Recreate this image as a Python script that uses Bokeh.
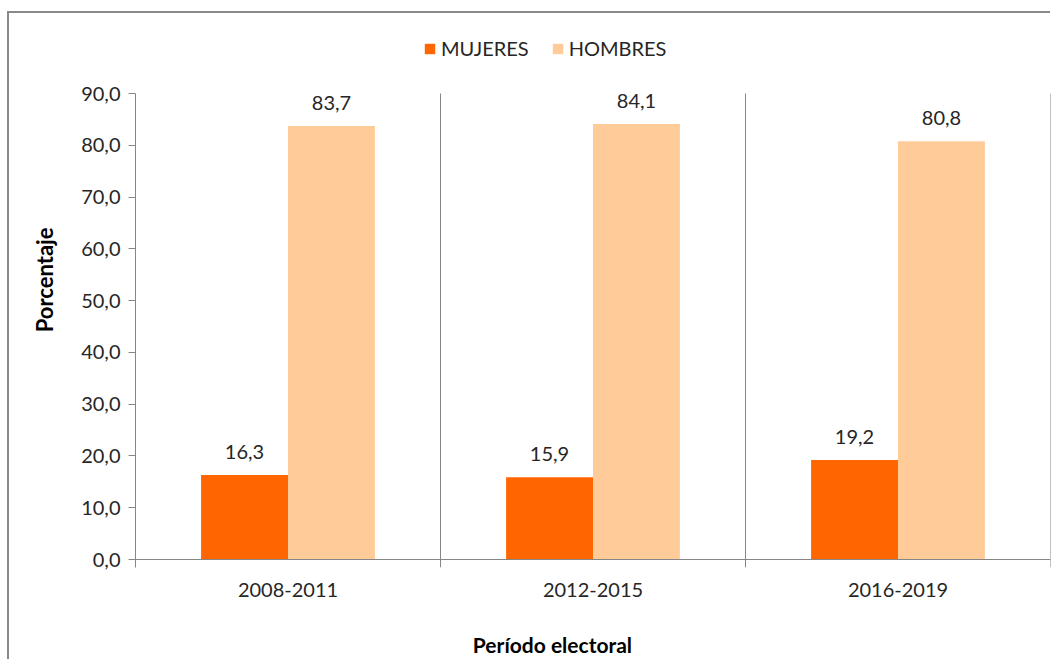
from bokeh.plotting import figure
from bokeh.models import (Range1d, FixedTicker, Span, Legend, LegendItem,
                          LinearAxis, ColumnDataSource)
from bokeh.core.properties import value
from bokeh.embed import file_html
from bokeh.resources import INLINE

periodos = ["2008-2011", "2012-2015", "2016-2019"]
mujeres = [16.3, 15.9, 19.2]
hombres = [83.7, 84.1, 80.8]
y_ticks = [0, 10, 20, 30, 40, 50, 60, 70, 80, 90]
series = ["MUJERES", "HOMBRES"]
y_title = "Porcentaje"
x_title = "Período electoral"

C_MUJ = "#FF6600"
C_HOM = "#FFCC99"
AX = "#868686"
TXT = "#262626"
FONT = "Lato"

Y_LO, Y_AX_TOP, Y_HI = -1.545, 90, 103.52

W, H = 1043, 648
p = figure(width=W, height=H, output_backend="svg", toolbar_location=None,
           x_range=Range1d(0, 3), y_range=Range1d(Y_LO, Y_HI),
           min_border_left=126, min_border_right=2, min_border_top=10,
           min_border_bottom=94)
p.styles = {"margin-left": "9px", "margin-top": "13px",
            "box-shadow": "-2px -2px 0px 0px #898989"}
p.outline_line_color = None
p.background_fill_color = "white"
p.border_fill_color = "white"

bw = 0.285
idx = list(range(len(periodos)))
xm = [i + 0.5 - bw / 2 for i in idx]
xh = [i + 0.5 + bw / 2 for i in idx]

src_m = ColumnDataSource(dict(x=xm, top=mujeres, lab=[f"{v:.1f}".replace(".", ",") for v in mujeres]))
src_h = ColumnDataSource(dict(x=xh, top=hombres, lab=[f"{v:.1f}".replace(".", ",") for v in hombres]))

# category separators (Excel-style vertical lines between categories)
seps = [i + 1 for i in idx]
p.segment(x0=seps, y0=[Y_LO] * len(seps), x1=seps, y1=[Y_AX_TOP] * len(seps),
          line_color=AX, line_width=1)

rm = p.vbar(x="x", top="top", bottom=0, width=bw, source=src_m, fill_color=C_MUJ, line_color=None)
rh = p.vbar(x="x", top="top", bottom=0, width=bw, source=src_h, fill_color=C_HOM, line_color=None)

for s in (src_m, src_h):
    p.text(x="x", y="top", text="lab", source=s, text_align="center", text_baseline="bottom",
           y_offset=-16, text_font=value(FONT), text_font_size="20px", text_color=TXT)

# x axis line at 0
p.add_layout(Span(location=0, dimension="width", line_color=AX, line_width=1))

p.xgrid.grid_line_color = None
p.ygrid.grid_line_color = None

# y axis
p.yaxis.ticker = FixedTicker(ticks=y_ticks)
p.yaxis.bounds = (Y_LO, Y_AX_TOP)
p.yaxis.major_label_overrides = {t: f"{t:.1f}".replace(".", ",") for t in y_ticks}
p.yaxis.axis_line_color = AX
p.yaxis.major_tick_line_color = AX
p.yaxis.major_tick_in = 0
p.yaxis.major_tick_out = 7
p.yaxis.minor_tick_line_color = None
p.yaxis.major_label_standoff = 8
p.yaxis.major_label_text_font = FONT
p.yaxis.major_label_text_font_size = "20px"
p.yaxis.major_label_text_color = TXT

# x axis
p.xaxis.ticker = FixedTicker(ticks=[i + 0.5 for i in idx])
p.xaxis.major_label_overrides = {i + 0.5: periodos[i] for i in idx}
p.xaxis.axis_line_color = None
p.xaxis.major_tick_line_color = None
p.xaxis.minor_tick_line_color = None
p.xaxis.major_label_standoff = 9
p.xaxis.major_label_text_font = FONT
p.xaxis.major_label_text_font_size = "20px"
p.xaxis.major_label_text_color = TXT

# axis titles as extra axes (placed precisely)
yt_pos = 54.0
ya = LinearAxis(ticker=FixedTicker(ticks=[yt_pos]), major_label_overrides={yt_pos: y_title},
                axis_line_color=None, major_tick_line_color=None, minor_tick_line_color=None,
                major_label_orientation="vertical", major_label_standoff=14,
                major_label_text_font=FONT, major_label_text_font_size="22px",
                major_label_text_font_style="bold", major_label_text_color="black")
p.add_layout(ya, "left")

xt_pos = 1.367
xa = LinearAxis(ticker=FixedTicker(ticks=[xt_pos]), major_label_overrides={xt_pos: x_title},
                axis_line_color=None, major_tick_line_color=None, minor_tick_line_color=None,
                major_label_standoff=26,
                major_label_text_font=FONT, major_label_text_font_size="21px",
                major_label_text_font_style="bold", major_label_text_color="black")
p.add_layout(xa, "below")

# legend
legend = Legend(items=[LegendItem(label=series[0], renderers=[rm]),
                       LegendItem(label=series[1], renderers=[rh])],
                orientation="horizontal", location=(288, 507),
                glyph_width=13, glyph_height=13, label_standoff=5, spacing=22,
                padding=0, margin=0, border_line_color=None, background_fill_alpha=0,
                label_text_font=FONT, label_text_font_size="20px", label_text_color=TXT)
p.add_layout(legend, "center")

open("out.html", "w").write(file_html(p, INLINE))
